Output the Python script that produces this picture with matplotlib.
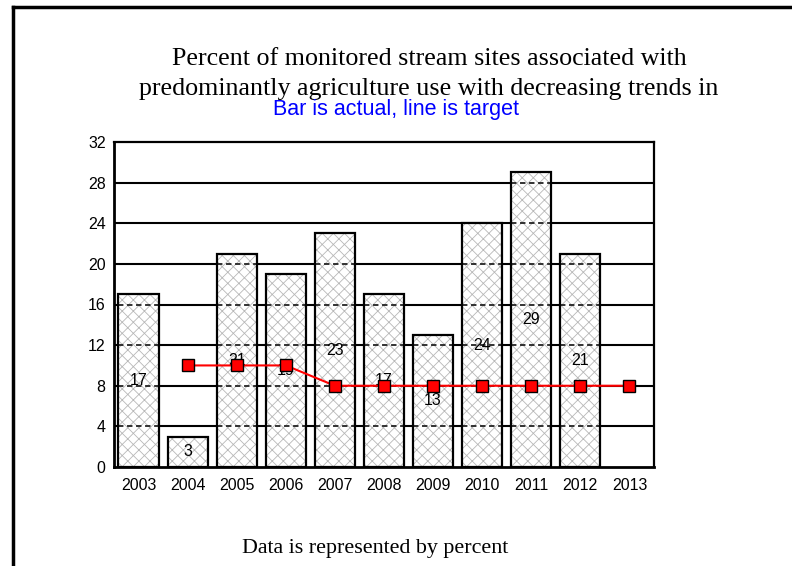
import numpy as np
import matplotlib
matplotlib.use('Agg')
import matplotlib.pyplot as plt
from matplotlib.lines import Line2D

years = ['2003', '2004', '2005', '2006', '2007', '2008', '2009', '2010', '2011', '2012', '2013']
actual = [17, 3, 21, 19, 23, 17, 13, 24, 29, 21, None]
target = [None, 10, 10, 10, 8, 8, 8, 8, 8, 8, 8]
yticks = [0, 4, 8, 12, 16, 20, 24, 28, 32]

W, H = 792, 566
fig = plt.figure(figsize=(W/100, H/100), dpi=100)
ax = fig.add_axes([114/W, 1-467/H, 540/W, 325/H])

x = np.arange(len(years))
bx = [i for i, v in enumerate(actual) if v is not None]
bv = [v for v in actual if v is not None]
bw = 0.82

# grid lines: solid behind, dashed where they cross the bars
for g in yticks[1:-1]:
    ax.axhline(g, color='black', lw=1.5, zorder=0)
for i, v in zip(bx, bv):
    lv = [g for g in yticks[1:-1] if g < v]
    ax.hlines(lv, i - bw/2, i + bw/2, color='#222222', lw=1.3,
              linestyles=(0, (3, 2)), zorder=2)

plt.rcParams['hatch.linewidth'] = 0.6
ax.bar(bx, bv, width=bw, color='white', edgecolor='#b8b8b8', hatch='xxx', lw=0, zorder=1)
ax.bar(bx, bv, width=bw, fill=False, edgecolor='black', lw=1.6, zorder=3)

for i, v in zip(bx, bv):
    ax.text(i, v/2, str(v), ha='center', va='center', fontsize=11.5,
            family='Liberation Sans', zorder=4)

tx = [i for i, v in enumerate(target) if v is not None]
tv = [v for v in target if v is not None]
ax.plot(tx, tv, color='red', lw=1.5, marker='s', ms=8, mfc='red', mec='black',
        mew=1.0, zorder=5)

ax.set_xlim(-0.5, 10.5)
ax.set_ylim(0, 32)
ax.set_yticks(yticks)
ax.set_xticks(x)
ax.set_xticklabels(years)
ax.tick_params(length=0, labelsize=11.5)
ax.tick_params(axis='y', pad=6)
ax.tick_params(axis='x', pad=8)
for lab in ax.get_xticklabels() + ax.get_yticklabels():
    lab.set_family('Liberation Sans')
for s in ['left', 'bottom']:
    ax.spines[s].set_linewidth(2)
for s in ['top', 'right']:
    ax.spines[s].set_linewidth(1.6)

# texts
fig.text(429/W, 1-65/H, 'Percent of monitored stream sites associated with',
         ha='center', va='baseline', fontsize=18.7, family='Liberation Serif')
fig.text(429/W, 1-95/H, 'predominantly agriculture use with decreasing trends in',
         ha='center', va='baseline', fontsize=18.7, family='Liberation Serif')
fig.text(396/W, 1-115/H, 'Bar is actual, line is target', color='blue',
         ha='center', va='baseline', fontsize=15.5, family='Liberation Sans')
fig.text(375/W, 1-553/H, 'Data is represented by percent',
         ha='center', va='baseline', fontsize=15.8, family='Liberation Serif')

# frame lines of the slide
fig.add_artist(Line2D([13.5/W, 13.5/W], [0, 1-7/H], transform=fig.transFigure,
                      color='black', lw=2.5))
fig.add_artist(Line2D([13.5/W, 1], [1-7/H, 1-7/H], transform=fig.transFigure,
                      color='black', lw=2.5))

fig.savefig('out.png', dpi=100)
